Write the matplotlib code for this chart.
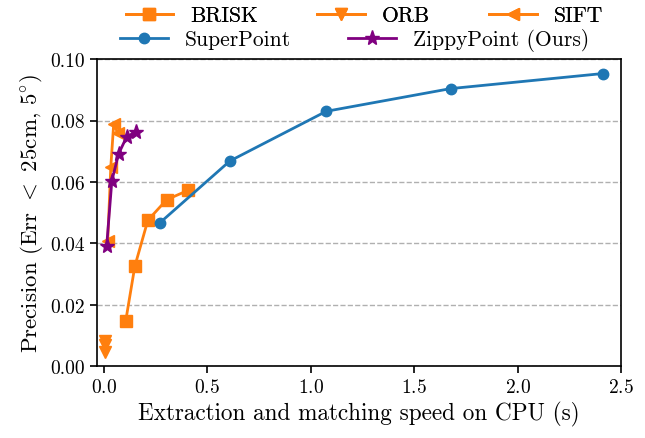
import matplotlib
matplotlib.use('Agg')
import matplotlib.pyplot as plt

plt.rcParams['font.family'] = 'serif'
plt.rcParams['font.serif'] = ['cmr10', 'DejaVu Serif']
plt.rcParams['mathtext.fontset'] = 'cm'
plt.rcParams['axes.formatter.use_mathtext'] = True

## values
brisk_t = [0.106, 0.150, 0.213, 0.304, 0.406]
brisk_p = [0.0147, 0.0325, 0.0475, 0.0542, 0.0572]

orb_t = [0.004, 0.006, 0.008]
orb_p = [0.0045, 0.0068, 0.0080]

sift_t = [0.019, 0.034, 0.048, 0.068]
sift_p = [0.0408, 0.0650, 0.0790, 0.0758]

sp_t = [0.270, 0.609, 1.075, 1.676, 2.410]
sp_p = [0.0466, 0.0668, 0.0830, 0.0904, 0.0953]

zp_t = [0.014, 0.039, 0.072, 0.110, 0.155]
zp_p = [0.0392, 0.0604, 0.0692, 0.0746, 0.0764]

orange = '#ff7f0e'
blue = '#1f77b4'

fig = plt.figure(figsize=(6.45, 4.39), dpi=100)
ax = fig.add_axes([0.150, 0.164, 0.813, 0.699])

l1, = ax.plot(brisk_t, brisk_p, '-s', color=orange, lw=2, ms=8, label='BRISK')
l2, = ax.plot(orb_t, orb_p, '-v', color=orange, lw=2, ms=9, label='ORB')
l3, = ax.plot(sift_t, sift_p, '-<', color=orange, lw=2, ms=9, label='SIFT')
l4, = ax.plot(sp_t, sp_p, '-o', color=blue, lw=2, ms=7.5, label='SuperPoint')
l5, = ax.plot(zp_t, zp_p, '-*', color='purple', lw=2, ms=11, label='ZippyPoint (Ours)')

ax.set_xlim(-0.034, 2.5)
ax.set_ylim(0, 0.1)
ax.set_xticks([0, 0.5, 1.0, 1.5, 2.0, 2.5])
ax.set_yticks([0, 0.02, 0.04, 0.06, 0.08, 0.10])
ax.set_yticklabels(['0.00', '0.02', '0.04', '0.06', '0.08', '0.10'])
ax.tick_params(labelsize=14, width=1.2, length=5)
for s in ax.spines.values():
    s.set_linewidth(1.2)
ax.yaxis.grid(True, ls='--', color='#b0b0b0', lw=1)
ax.set_axisbelow(True)

ax.set_xlabel('Extraction and matching speed on CPU (s)', fontsize=16.7)
ax.set_ylabel(r'Precision (Err $<$ 25cm, 5$^{\circ}$)', fontsize=16.5)

leg1 = fig.legend(handles=[l1, l2, l3], loc='center', bbox_to_anchor=(0.565, 0.962),
                  ncol=3, frameon=False, fontsize=15.5, handlelength=2.2,
                  columnspacing=2.75, borderaxespad=0, borderpad=0)
leg2 = fig.legend(handles=[l4, l5], loc='center', bbox_to_anchor=(0.550, 0.907),
                  ncol=2, frameon=False, fontsize=15.5, handlelength=2.2,
                  columnspacing=2.65, borderaxespad=0, borderpad=0)
fig.add_artist(leg1)

fig.savefig('out.png', dpi=100)
